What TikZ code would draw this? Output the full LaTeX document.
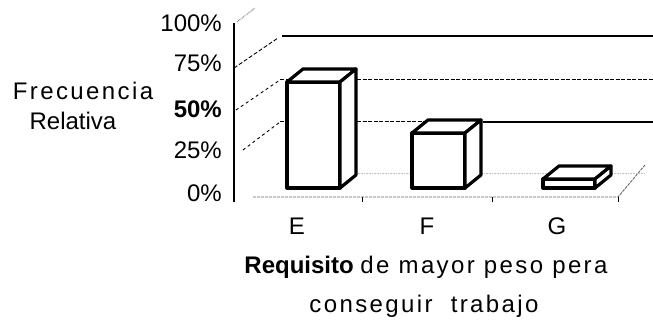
\documentclass[tikz,border=0pt]{standalone}
\usepackage{fontspec}
\setmainfont{Liberation Sans}
\newfontfamily\widesans[LetterSpace=10]{Liberation Sans}
\usepackage{tikz}

\begin{document}
\begin{tikzpicture}[x=1pt,y=1pt,
  every node/.style={inner sep=0pt,font=\fontsize{24}{28}\selectfont},
  pctlabel/.style={anchor=base east},
  catlabel/.style={anchor=base},
  barline/.style={draw=black,fill=white,line width=3.2pt,line join=round}]
\useasboundingbox (0,0) rectangle (653,323);
\begin{scope}
    % back wall
    \draw[black,line width=2.2pt] (282,287) -- (653,287);
    \draw[black,line width=1pt,dash pattern=on 4pt off 1.5pt] (280,243) -- (653,243);
    \draw[black,line width=1pt,dash pattern=on 4pt off 1.5pt] (280,201) -- (483,201);
    \draw[black,line width=1.6pt] (483,201) -- (653,201);

    % side wall
    \draw[black,line width=0.6pt,densely dotted] (237,301) -- (255,315);
    \draw[black,line width=0.9pt,dash pattern=on 4pt off 2pt] (234,255) -- (278,285);
    \draw[black,line width=0.9pt,dash pattern=on 3pt off 3pt] (236,213) -- (280,243);
    \draw[black,line width=0.9pt,dash pattern=on 3pt off 3pt] (243,173) -- (280,201);

    % floor
    \draw[black!60,line width=0.9pt,dash pattern=on 3pt off 1pt] (253,126) -- (618,126) -- (645,158);
    \draw[black!25,line width=0.6pt,densely dotted] (300,150) -- (645,150);
    \foreach \x in {362,492,618}
        \draw[black,line width=1pt] (\x,126) -- (\x,121);

    % axis
    \draw[black,line width=1.5pt] (234,121) -- (234,300);

    % bars
    \foreach \xa/\xb/\top in {287/340/241, 412/465/190, 543/595/144} {
        \filldraw[barline] (\xa,135) rectangle (\xb,\top);
        \filldraw[barline] (\xa,\top) -- (\xa+16,\top+13) -- (\xb+16,\top+13) -- (\xb,\top) -- cycle;
        \filldraw[barline] (\xb,135) -- (\xb+16,148) -- (\xb+16,\top+13) -- (\xb,\top) -- cycle;
    }
\end{scope}

\node[pctlabel] (p100) at (222,291) {100\%};
\node[pctlabel] (p75) at (222,251) {75\%};
\node[pctlabel] (p50) at (222,205) {\textbf{50\%}};
\node[pctlabel] (p25) at (222,164) {25\%};
\node[pctlabel] (p0) at (222,121) {0\%};

\node[catlabel] (freq) at (83,223) {\widesans Frecuencia};
\node[catlabel] (rel) at (73,193) {Relativa};

\node[catlabel] (catE) at (297,88) {E};
\node[catlabel] (catF) at (427,88) {F};
\node[catlabel] (catG) at (557,88) {G};

\node[catlabel] (req) at (426,49) {\textbf{Requisito} {\widesans de mayor peso pera}};
\node[catlabel] (work) at (424,10) {\widesans conseguir\ \ trabajo};
\end{tikzpicture}
\end{document}
